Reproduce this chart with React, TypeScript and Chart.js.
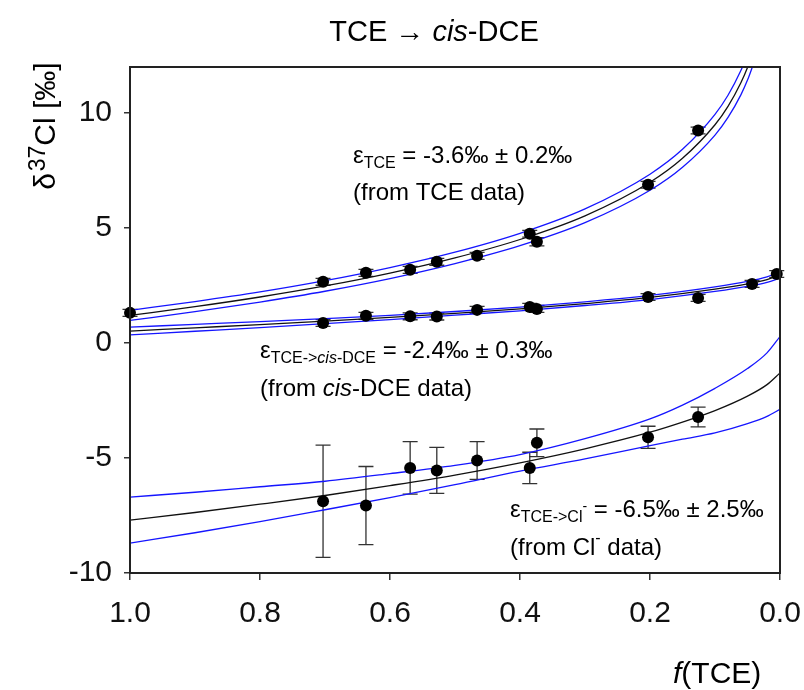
import React, { useEffect, useRef } from 'react';
import { Chart, registerables } from 'chart.js';

Chart.register(...registerables);

const FONT = "'Liberation Sans', Arial, Helvetica, sans-serif";

// axis ticks
const xTicks = [1.0, 0.8, 0.6, 0.4, 0.2, 0.0];
const yTicks = [-10, -5, 0, 5, 10];

// TCE data (f, delta37Cl, error)
const fTce = [1.0, 0.703, 0.637, 0.569, 0.528, 0.466, 0.385, 0.374, 0.203, 0.126];
const dTce = [1.31, 2.66, 3.05, 3.18, 3.53, 3.79, 4.75, 4.40, 6.88, 9.24];
const eTce = [0.15, 0.15, 0.15, 0.15, 0.15, 0.15, 0.15, 0.18, 0.15, 0.15];

// cis-DCE data
const fDce = [0.703, 0.637, 0.569, 0.528, 0.466, 0.385, 0.374, 0.203, 0.126, 0.043, 0.005];
const dDce = [0.87, 1.18, 1.16, 1.15, 1.44, 1.57, 1.48, 2.0, 1.96, 2.57, 3.0];
const eDce = [0.15, 0.15, 0.15, 0.15, 0.15, 0.15, 0.15, 0.15, 0.15, 0.15, 0.15];

// chloride data
const fCl = [0.703, 0.637, 0.569, 0.528, 0.466, 0.385, 0.374, 0.203, 0.126];
const dCl = [-6.88, -7.07, -5.43, -5.54, -5.11, -5.43, -4.34, -4.10, -3.22];
const eCl = [2.44, 1.70, 1.14, 1.00, 0.82, 0.68, 0.60, 0.48, 0.43];

// fitted curves and confidence bands
const fFitTce = [1.0, 0.9, 0.8, 0.7, 0.6, 0.5, 0.4, 0.3, 0.2, 0.15, 0.1, 0.08, 0.06, 0.05, 0.04];
const fitTce = [1.2, 1.58, 2.0, 2.48, 3.04, 3.7, 4.5, 5.53, 6.99, 8.03, 9.49, 10.29, 11.33, 11.98, 12.79];
const hiTce = [1.42, 1.8, 2.22, 2.71, 3.28, 3.95, 4.77, 5.83, 7.34, 8.42, 9.94, 10.77, 11.86, 12.53, 13.38];
const loTce = [0.98, 1.36, 1.78, 2.25, 2.8, 3.45, 4.23, 5.23, 6.64, 7.64, 9.04, 9.81, 10.8, 11.43, 12.2];

const fFitDce = [1.0, 0.9, 0.8, 0.7, 0.6, 0.5, 0.4, 0.3, 0.2, 0.1, 0.05, 0.02, 0.0];
const fitDce = [0.52, 0.66, 0.8, 0.95, 1.11, 1.29, 1.48, 1.71, 1.98, 2.34, 2.57, 2.76, 2.95];
const hiDce = [0.69, 0.81, 0.93, 1.06, 1.2, 1.37, 1.56, 1.79, 2.07, 2.44, 2.68, 2.88, 3.08];
const loDce = [0.35, 0.51, 0.67, 0.84, 1.02, 1.21, 1.4, 1.63, 1.89, 2.24, 2.46, 2.64, 2.82];

const fFitCl = [1.0, 0.9, 0.8, 0.7, 0.6, 0.5, 0.4, 0.3, 0.2, 0.15, 0.1, 0.05, 0.02, 0.0];
const fitCl = [-7.7, -7.37, -7.01, -6.63, -6.2, -5.74, -5.21, -4.6, -3.88, -3.44, -2.94, -2.31, -1.81, -1.3];
const hiCl = [-6.7, -6.49, -6.25, -6.01, -5.68, -5.32, -4.85, -4.16, -3.3, -2.7, -1.97, -1.11, -0.43, 0.28];
const loCl = [-8.7, -8.25, -7.77, -7.25, -6.72, -6.16, -5.57, -5.04, -4.46, -4.18, -3.91, -3.51, -3.19, -2.88];

const pts = (xs: number[], ys: number[]) => xs.map((x, i) => ({ x, y: ys[i] }));

type Run = { t: string; s: number; i?: boolean; dy?: number };

function setFont(ctx: CanvasRenderingContext2D, r: Run) {
  ctx.font = `${r.i ? 'italic ' : ''}${r.s}px ${FONT}`;
}
function runsWidth(ctx: CanvasRenderingContext2D, runs: Run[]) {
  let w = 0;
  for (const r of runs) {
    setFont(ctx, r);
    w += ctx.measureText(r.t).width;
  }
  return w;
}
function drawRuns(ctx: CanvasRenderingContext2D, x: number, y: number, runs: Run[]) {
  let cx = x;
  for (const r of runs) {
    setFont(ctx, r);
    ctx.fillText(r.t, cx, y + (r.dy || 0));
    cx += ctx.measureText(r.t).width;
  }
}

const errorBarPlugin = {
  id: 'errorBars',
  beforeDatasetsDraw(chart: any) {
    const { ctx, scales } = chart;
    const xs = scales.x;
    const ys = scales.y;
    ctx.save();
    ctx.strokeStyle = '#333';
    ctx.lineWidth = 1.3;
    const sets: [number[], number[], number[]][] = [
      [fTce, dTce, eTce],
      [fDce, dDce, eDce],
      [fCl, dCl, eCl],
    ];
    for (const [fs, ds, es] of sets) {
      fs.forEach((f, i) => {
        const px = xs.getPixelForValue(f);
        const top = ys.getPixelForValue(ds[i] + es[i]);
        const bot = ys.getPixelForValue(ds[i] - es[i]);
        ctx.beginPath();
        ctx.moveTo(px, top);
        ctx.lineTo(px, bot);
        ctx.moveTo(px - 7.5, top);
        ctx.lineTo(px + 7.5, top);
        ctx.moveTo(px - 7.5, bot);
        ctx.lineTo(px + 7.5, bot);
        ctx.stroke();
      });
    }
    ctx.restore();
  },
};

const framePlugin = {
  id: 'frameAndText',
  afterDraw(chart: any) {
    const { ctx, chartArea } = chart;
    ctx.save();
    ctx.strokeStyle = '#222';
    ctx.lineWidth = 2;
    ctx.strokeRect(chartArea.left, chartArea.top, chartArea.right - chartArea.left, chartArea.bottom - chartArea.top);

    ctx.fillStyle = '#000';
    ctx.textAlign = 'left';
    ctx.textBaseline = 'alphabetic';

    // title
    const title: Run[] = [
      { t: 'TCE \u2192 ', s: 29 },
      { t: 'cis', s: 29, i: true },
      { t: '-DCE', s: 29 },
    ];
    drawRuns(ctx, 434 - runsWidth(ctx, title) / 2, 41, title);

    // x title
    drawRuns(ctx, 673, 683, [
      { t: 'f', s: 30, i: true },
      { t: '(TCE)', s: 30 },
    ]);

    // y title
    ctx.save();
    ctx.translate(55, 126);
    ctx.rotate(-Math.PI / 2);
    const yt: Run[] = [
      { t: '\u03B4', s: 30 },
      { t: ' ', s: 6 },
      { t: '37', s: 23, dy: -10 },
      { t: 'Cl [\u2030]', s: 30 },
    ];
    drawRuns(ctx, -runsWidth(ctx, yt) / 2, 0, yt);
    ctx.restore();

    // annotations
    drawRuns(ctx, 353, 163, [
      { t: '\u03B5', s: 24 },
      { t: 'TCE', s: 16, dy: 5 },
      { t: ' = -3.6\u2030 \u00B1 0.2\u2030', s: 24 },
    ]);
    drawRuns(ctx, 353, 200, [{ t: '(from TCE data)', s: 24 }]);

    drawRuns(ctx, 260, 358, [
      { t: '\u03B5', s: 24 },
      { t: 'TCE->', s: 16, dy: 5 },
      { t: 'cis', s: 16, dy: 5, i: true },
      { t: '-DCE', s: 16, dy: 5 },
      { t: ' = -2.4\u2030 \u00B1 0.3\u2030', s: 24 },
    ]);
    drawRuns(ctx, 260, 396, [
      { t: '(from ', s: 24 },
      { t: 'cis', s: 24, i: true },
      { t: '-DCE data)', s: 24 },
    ]);

    drawRuns(ctx, 510, 517, [
      { t: '\u03B5', s: 24 },
      { t: 'TCE->Cl', s: 16, dy: 5 },
      { t: '-', s: 14, dy: -6 },
      { t: ' = -6.5\u2030 \u00B1 2.5\u2030', s: 24 },
    ]);
    drawRuns(ctx, 510, 555, [
      { t: '(from Cl', s: 24 },
      { t: '-', s: 16, dy: -12 },
      { t: ' data)', s: 24 },
    ]);

    ctx.restore();
  },
};

const markerDs = (data: { x: number; y: number }[]) => ({
  data,
  showLine: false,
  pointRadius: 6,
  pointBackgroundColor: '#000',
  pointBorderColor: '#000',
  pointBorderWidth: 0,
  clip: false as any,
});

const curveDs = (data: { x: number; y: number }[], color: string) => ({
  data,
  showLine: true,
  pointRadius: 0,
  borderColor: color,
  borderWidth: 1.3,
  fill: false,
  cubicInterpolationMode: 'monotone' as const,
});

export default function App() {
  const ref = useRef<HTMLCanvasElement>(null);
  useEffect(() => {
    if (!ref.current) return;
    Chart.defaults.font.family = FONT;
    const BLUE = '#1515ff';
    const BLACK = '#111';
    const chart = new Chart(ref.current, {
      type: 'scatter',
      data: {
        datasets: [
          markerDs(pts(fTce, dTce)),
          markerDs(pts(fDce, dDce)),
          markerDs(pts(fCl, dCl)),
          curveDs(pts(fFitTce, fitTce), BLACK),
          curveDs(pts(fFitTce, hiTce), BLUE),
          curveDs(pts(fFitTce, loTce), BLUE),
          curveDs(pts(fFitDce, fitDce), BLACK),
          curveDs(pts(fFitDce, hiDce), BLUE),
          curveDs(pts(fFitDce, loDce), BLUE),
          curveDs(pts(fFitCl, fitCl), BLACK),
          curveDs(pts(fFitCl, hiCl), BLUE),
          curveDs(pts(fFitCl, loCl), BLUE),
        ] as any,
      },
      options: {
        animation: false,
        responsive: false,
        events: [],
        layout: { padding: { top: 67, right: 24, left: 0, bottom: 0 } },
        plugins: {
          legend: { display: false },
          tooltip: { enabled: false },
          title: { display: false },
        },
        scales: {
          x: {
            type: 'linear',
            min: 0,
            max: 1,
            reverse: true,
            afterBuildTicks: (s: any) => {
              s.ticks = xTicks.map((v) => ({ value: v }));
            },
            afterFit: (s: any) => {
              s.height = 117;
              s.paddingLeft = 0;
              s.paddingRight = 0;
            },
            ticks: {
              callback: (v: any) => Number(v).toFixed(1),
              font: { size: 30, family: FONT },
              color: '#111',
              padding: 16,
              maxRotation: 0,
              autoSkip: false,
            },
            grid: { drawOnChartArea: false, drawTicks: true, tickLength: 7, color: '#333', lineWidth: 1.5 },
            border: { display: false },
          },
          y: {
            type: 'linear',
            min: -10,
            max: 12,
            afterBuildTicks: (s: any) => {
              s.ticks = yTicks.map((v) => ({ value: v }));
            },
            afterFit: (s: any) => {
              s.width = 130;
              s.paddingTop = 0;
              s.paddingBottom = 0;
            },
            ticks: {
              callback: (v: any) => String(v),
              font: { size: 30, family: FONT },
              color: '#111',
              padding: 12,
            },
            grid: { drawOnChartArea: false, drawTicks: true, tickLength: 6, color: '#333', lineWidth: 1.5 },
            border: { display: false },
          },
        },
      } as any,
      plugins: [errorBarPlugin, framePlugin],
    });
    return () => chart.destroy();
  }, []);

  return (
    <div style={{ position: 'absolute', left: 0, top: 0, width: 804, height: 690, background: '#fff' }}>
      <canvas ref={ref} width={804} height={690} style={{ display: 'block' }} />
    </div>
  );
}
